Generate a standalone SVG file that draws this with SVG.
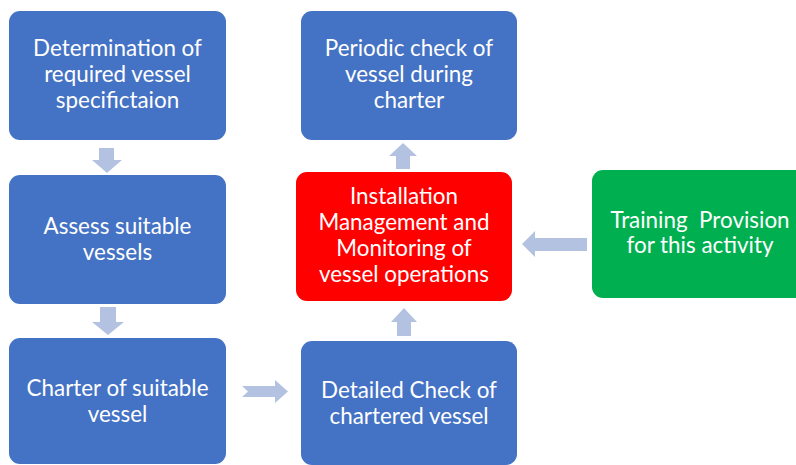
<svg xmlns="http://www.w3.org/2000/svg" width="796" height="465" viewBox="0 0 796 465">
  <style>
    .box { stroke: none; }
    .blue { fill: #4472C4; }
    .red { fill: #FF0000; }
    .green { fill: #00B050; }
    .label { fill: #FFFFFF; font-family: Lato, "Liberation Sans", sans-serif; font-size: 22.4px; text-anchor: middle; }
    .arrow { fill: #B4C2E2; stroke: none; }
  </style>
  <rect width="796" height="465" fill="#FFFFFF"/>

  <g id="connectors">
    <!-- down: specification to assessment -->
    <polygon class="arrow" points="99,148 114,148 114,160 122,160 107,173 92,160 99,160"/>
    <!-- down: assessment to charter -->
    <polygon class="arrow" points="100,307 116,307 116,322 124,322 108,335 92,322 100,322"/>
    <!-- right: charter to detailed check (notched tail) -->
    <polygon class="arrow" points="242,386 275,386 275,380 288,391.5 275,403 275,397 242,397 248,391.5"/>
    <!-- up: detailed check to installation management -->
    <polygon class="arrow" points="397,336 397,322 391,322 404,308 417,322 411,322 411,336"/>
    <!-- up: installation management to periodic check -->
    <polygon class="arrow" points="396,169 396,156 389,156 403,143 417,156 410,156 410,169"/>
    <!-- left: training to installation management -->
    <polygon class="arrow" points="587,238 535,238 535,231 522,244 535,257 535,251 587,251"/>
  </g>

  <g id="node-spec">
    <rect class="box blue" x="9" y="11" width="217" height="129" rx="11"/>
    <text class="label"><tspan x="117.5" y="56">Determination of</tspan><tspan x="117.5" y="82">required vessel</tspan><tspan x="117.5" y="108">specifictaion</tspan></text>
  </g>

  <g id="node-assess">
    <rect class="box blue" x="9" y="175" width="217" height="129" rx="11"/>
    <text class="label"><tspan x="117.5" y="234">Assess suitable</tspan><tspan x="117.5" y="260">vessels</tspan></text>
  </g>

  <g id="node-charter">
    <rect class="box blue" x="9" y="338" width="217" height="126" rx="11"/>
    <text class="label"><tspan x="117.5" y="396">Charter of suitable</tspan><tspan x="117.5" y="422">vessel</tspan></text>
  </g>

  <g id="node-detailed-check">
    <rect class="box blue" x="301" y="341" width="216" height="124" rx="11"/>
    <text class="label"><tspan x="409" y="398">Detailed Check of</tspan><tspan x="409" y="424">chartered vessel</tspan></text>
  </g>

  <g id="node-installation">
    <rect class="box red" x="296" y="172" width="216" height="129" rx="11"/>
    <text class="label"><tspan x="404" y="204">Installation</tspan><tspan x="404" y="230">Management and</tspan><tspan x="404" y="256">Monitoring of</tspan><tspan x="404" y="282">vessel operations</tspan></text>
  </g>

  <g id="node-periodic-check">
    <rect class="box blue" x="301" y="11" width="216" height="129" rx="11"/>
    <text class="label"><tspan x="409" y="56">Periodic check of</tspan><tspan x="409" y="82">vessel during</tspan><tspan x="409" y="108">charter</tspan></text>
  </g>

  <g id="node-training">
    <rect class="box green" x="592" y="170" width="216" height="128" rx="11"/>
    <text class="label" xml:space="preserve"><tspan x="700" y="228">Training  Provision</tspan><tspan x="700" y="253">for this activity</tspan></text>
  </g>
</svg>
